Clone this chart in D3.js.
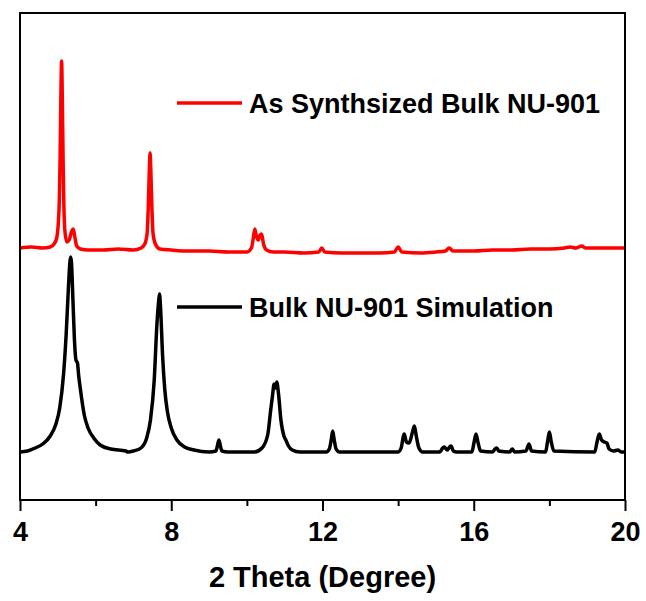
<!DOCTYPE html>
<html>
<head>
<meta charset="utf-8">
<script src="https://cdn.jsdelivr.net/npm/d3@7"></script>
<style>
  body { margin: 0; background: #fff; }
  text { font-family: "Liberation Sans", Arial, sans-serif; font-weight: bold; }
</style>
</head>
<body>
<div id="content"></div>
<script>
// XRD patterns, intensity in arbitrary units (offset stack as in the figure)
var seriesNames = ["As Synthsized Bulk NU-901", "Bulk NU-901 Simulation"];
var seriesColors = ["#ff0000", "#000000"];

var synthTheta = [4.00, 4.30, 4.60, 4.80, 4.90, 4.97, 5.01, 5.04, 5.06, 5.08, 5.10, 5.12, 5.14, 5.16, 5.19, 5.24,
    5.30, 5.36, 5.41, 5.45, 5.50, 5.60, 5.80, 6.20, 6.60, 7.00, 7.20, 7.30, 7.36, 7.39, 7.42, 7.44, 7.46, 7.49,
    7.52, 7.58, 7.70, 8.00, 8.50, 9.00, 9.50, 10.00, 10.12, 10.17, 10.21, 10.25, 10.30, 10.35, 10.39, 10.44,
    10.52, 10.70, 11.00, 11.50, 11.90, 11.98, 12.06, 12.50, 13.00, 13.50, 13.90, 14.00, 14.10, 14.60, 15.00,
    15.25, 15.35, 15.45, 16.00, 16.50, 17.00, 17.50, 18.00, 18.40, 18.55, 18.70, 18.86, 18.95, 19.30, 19.70, 20.00];
var synthIntensity = [252, 253, 252, 253, 256, 262, 275, 300, 340, 400, 439, 400, 340, 295, 268, 258,
    260, 268, 271, 263, 254, 251, 250, 250, 251, 250, 252, 256, 266, 290, 330, 347, 330, 290,
    266, 256, 251, 250, 249, 249, 248, 248, 252, 262, 271, 264, 260, 265, 266, 256,
    250, 248, 248, 247, 248, 252, 248, 247, 247, 247, 248, 253, 248, 247, 248,
    249, 252, 249, 249, 250, 250, 251, 251, 252, 253, 252, 254, 252, 252, 252, 252];

var simTheta = [4.00, 4.20, 4.40, 4.60, 4.80, 4.95, 5.05, 5.15, 5.22, 5.28, 5.32, 5.34, 5.36, 5.40, 5.44, 5.48,
    5.52, 5.55, 5.60, 5.70, 5.80, 5.95, 6.12, 6.40, 6.80, 6.85, 7.00, 7.20, 7.35, 7.45, 7.55, 7.62, 7.67, 7.69,
    7.72, 7.77, 7.83, 7.90, 8.00, 8.15, 8.35, 8.60, 9.00, 9.18, 9.22, 9.26, 9.30, 9.34, 9.50, 10.20, 10.40,
    10.55, 10.63, 10.68, 10.72, 10.76, 10.79, 10.84, 10.90, 10.98, 11.03, 11.10, 11.20, 11.40, 12.10, 12.18,
    12.23, 12.27, 12.31, 12.36, 12.45, 14.00, 14.08, 14.13, 14.16, 14.22, 14.29, 14.38, 14.43, 14.48, 14.55,
    14.65, 15.10, 15.18, 15.22, 15.30, 15.36, 15.40, 15.46, 15.55, 15.95, 16.01, 16.06, 16.11, 16.18, 16.50,
    16.56, 16.61, 16.66, 16.95, 17.02, 17.08, 17.38, 17.46, 17.53, 17.90, 17.95, 18.00, 18.05, 18.12, 19.20,
    19.26, 19.32, 19.38, 19.45, 19.52, 19.58, 19.70, 19.81, 19.90, 20.00];
var simIntensity = [48, 49, 52, 56, 64, 76, 92, 125, 165, 212, 238, 243, 238, 200, 160, 140,
    137, 125, 110, 85, 72, 62, 55, 51, 49, 48, 49, 52, 62, 80, 120, 175, 200, 206,
    190, 145, 110, 88, 72, 60, 53, 50, 48, 49, 54, 60, 54, 49, 48, 48, 52,
    65, 90, 105, 116, 112, 118, 105, 80, 64, 60, 54, 50, 48, 48, 51,
    60, 69, 60, 51, 48, 48, 52, 62, 66, 58, 57, 68, 74, 64, 52,
    48, 48, 52, 53, 50, 53, 54, 49, 48, 48, 58, 66, 58, 49, 48,
    51, 52, 49, 48, 51, 48, 49, 56, 49, 48, 58, 68, 58, 49, 48,
    58, 66, 60, 58, 57, 51, 49, 50, 48, 48];

var majorTicks = [4, 8, 12, 16, 20];
var minorTicks = [6, 10, 14, 18];
var xTitle = "2 Theta (Degree)";

var w = 646,
    h = 601,
    plotLeft = 20,
    plotRight = 625,
    plotTop = 13,
    plotBottom = 500;

var svg = d3.select("#content")
    .append("svg")
    .attr("width", w)
    .attr("height", h);

var x = d3.scaleLinear().domain([4, 20]).range([plotLeft, plotRight]);
var y = d3.scaleLinear().domain([0, 487]).range([plotBottom, plotTop]);

var series = [
    {name: seriesNames[0], color: seriesColors[0], theta: synthTheta, vals: synthIntensity},
    {name: seriesNames[1], color: seriesColors[1], theta: simTheta, vals: simIntensity}
];

var line = d3.line()
    .x(function(d) { return x(d[0]); })
    .y(function(d) { return y(d[1]); })
    .curve(d3.curveMonotoneX);

svg.selectAll("path.trace")
    .data(series)
    .enter()
    .append("path")
    .attr("class", "trace")
    .attr("fill", "none")
    .attr("stroke", function(d) { return d.color; })
    .attr("stroke-width", 3.5)
    .attr("stroke-linejoin", "round")
    .attr("d", function(d) { return line(d3.zip(d.theta, d.vals)); });

// frame
svg.append("rect")
    .attr("x", plotLeft)
    .attr("y", plotTop)
    .attr("width", plotRight - plotLeft)
    .attr("height", plotBottom - plotTop)
    .attr("fill", "none")
    .attr("stroke", "#000")
    .attr("stroke-width", 2);

// bottom axis: major + minor ticks
var axis = svg.append("g").attr("transform", "translate(0," + plotBottom + ")");
axis.call(d3.axisBottom(x).tickValues(majorTicks).tickSize(11).tickFormat(d3.format("d")))
    .call(function(g) { g.select(".domain").remove(); });
axis.selectAll(".tick line").attr("stroke-width", 2);
axis.selectAll(".tick text")
    .attr("y", 41)
    .attr("dy", 0)
    .attr("fill", "#000")
    .style("font-size", "27px");

var minor = svg.append("g").attr("transform", "translate(0," + plotBottom + ")");
minor.call(d3.axisBottom(x).tickValues(minorTicks).tickSize(6).tickFormat(""))
    .call(function(g) { g.select(".domain").remove(); });
minor.selectAll(".tick line").attr("stroke-width", 2);

svg.append("text")
    .attr("x", (plotLeft + plotRight) / 2)
    .attr("y", 587)
    .attr("text-anchor", "middle")
    .style("font-size", "29px")
    .text(xTitle);

// legends
var legendY = [103, 307];
var legend = svg.selectAll("g.legend")
    .data(series)
    .enter()
    .append("g")
    .attr("class", "legend")
    .attr("transform", function(d, i) { return "translate(177," + legendY[i] + ")"; });

legend.append("line")
    .attr("x1", 0)
    .attr("x2", 65)
    .attr("stroke", function(d) { return d.color; })
    .attr("stroke-width", 3.5);

legend.append("text")
    .attr("x", 72)
    .attr("y", 10)
    .style("font-size", "27px")
    .attr("fill", "#000")
    .text(function(d) { return d.name; });
</script>
</body>
</html>
